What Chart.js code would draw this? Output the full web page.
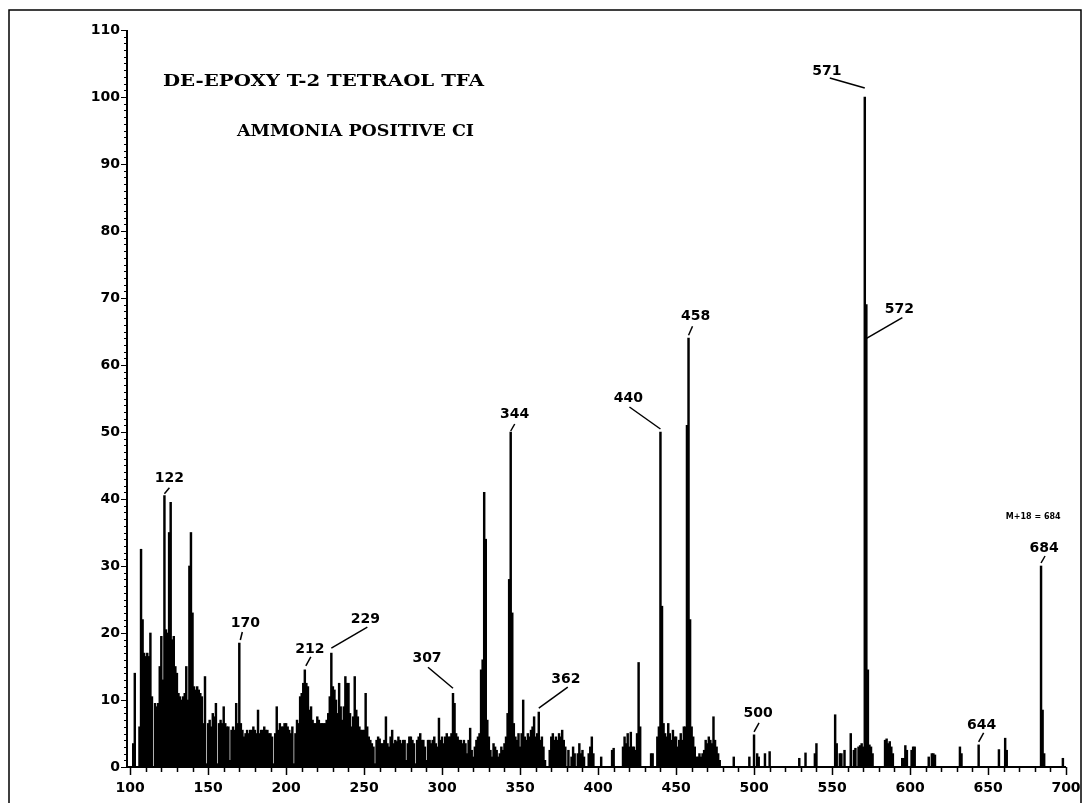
<!DOCTYPE html>
<html><head><meta charset="utf-8">
<script src="https://cdn.jsdelivr.net/npm/chart.js@4.4.1/dist/chart.umd.min.js"></script>
<style>html,body{margin:0;padding:0;background:#fff}#wrap{width:1087px;height:803px;position:relative}</style>
</head><body><div id="wrap"><canvas id="c" width="1087" height="803"></canvas></div>
<script>
// ---------- data ----------
const titleLines = ["DE-EPOXY T-2 TETRAOL TFA", "AMMONIA POSITIVE CI"];
const noteText = "M+18 = 684";
const xTickValues = [100, 150, 200, 250, 300, 350, 400, 450, 500, 550, 600, 650, 700];
const yTickValues = [0, 10, 20, 30, 40, 50, 60, 70, 80, 90, 100, 110];

// m/z 100 .. 479, one value per integer mass (relative abundance %)
const denseStartMz = 100;
const denseIntensity = [
  0, 0, 3.5, 14, 0, 0, 6, 32.5, 22, 17,
  16.5, 17, 16.5, 20, 10.5, 0, 9.5, 9, 9.5, 15,
  19.5, 13, 40.5, 20.5, 20, 35, 39.5, 19, 19.5, 15,
  14, 11, 10.5, 10, 10.5, 11, 15, 10, 30, 35,
  23, 12, 11.5, 12, 11.5, 11, 10.5, 6.5, 13.5, 0.5,
  6.5, 7, 6, 8, 7.5, 9.5, 0.5, 6.5, 7, 6.5,
  9, 6.5, 6, 6, 1, 5.5, 6, 5.5, 9.5, 6.5,
  18.5, 6.5, 5.5, 4.5, 5, 5.5, 5, 5.5, 5.5, 6,
  5.5, 5, 8.5, 5, 5.5, 5.5, 6, 5.5, 5.5, 5,
  5, 4.5, 0.5, 5, 9, 5.5, 6.5, 6, 6, 6.5,
  6.5, 6, 5.5, 5, 6, 0.5, 5, 7, 6.5, 10.5,
  11, 12.5, 14.5, 12.5, 12, 8.5, 9, 7, 6.5, 6.5,
  7.5, 7, 6.5, 6.5, 6.5, 6.5, 7, 8, 10.5, 17,
  12, 11.5, 10, 8, 12.5, 9, 7, 9, 13.5, 12.5,
  12.5, 8, 6, 7.5, 13.5, 8.5, 7.5, 6, 5.5, 5.5,
  5.5, 11, 6, 4.5, 4, 3.5, 3, 0.5, 4, 4.5,
  4.2, 3.5, 3.5, 4, 7.5, 3.5, 3, 4.5, 5.5, 3.5,
  4, 3.8, 4.5, 4, 3.5, 4, 4, 1, 3.5, 4.5,
  4.5, 4, 3.5, 0.5, 4, 4.5, 5, 4, 4, 3,
  1, 4, 4, 3.5, 4, 4.5, 3.5, 3, 7.3, 4,
  4.5, 3.5, 4.5, 5, 4.5, 4.5, 5, 11, 9.5, 5,
  4.5, 4, 4, 3.5, 4, 3.5, 2, 4, 5.8, 2.5,
  1.5, 3, 4, 4.5, 5, 14.5, 16, 41, 34, 7,
  4.5, 2.5, 1.5, 3.5, 3, 2.5, 1.5, 2, 3, 2.5,
  3.5, 4.5, 8, 28, 50, 23, 6.5, 4.5, 4, 5,
  3, 5, 10, 4.5, 4, 5, 4.5, 5.5, 6, 7.5,
  4.5, 5, 8.2, 4, 4.5, 3, 1, 0, 0, 2.5,
  4.5, 5, 4, 4.5, 4, 5, 4.5, 5.5, 4, 3,
  0, 2.5, 0, 1.5, 3, 2, 0, 2, 3.5, 2,
  2.5, 1.5, 0, 0, 2, 3, 4.5, 2, 0, 0,
  0, 0, 1.5, 0, 0, 0, 0, 0, 0, 2.5,
  2.8, 0, 0, 0, 0, 0, 3, 4.5, 3.5, 5,
  3, 5.2, 3, 3, 2.5, 5, 15.6, 6, 0, 0,
  0, 0, 0, 0, 2, 2, 0, 0, 4.5, 6,
  50, 24, 6.5, 5, 4.5, 6.5, 5, 4, 5.5, 4.5,
  4.5, 3, 4, 5, 4, 6, 6, 51, 64, 22,
  6, 4.5, 3, 1.5, 1.5, 2, 1.5, 2, 2.5, 4,
  3.5, 4.5, 4, 3.5, 7.5, 4, 3, 2, 1, 0
];

// isolated peaks above m/z 480
const sparseMz = [487,497,500,502,503,507,510,529,533,539,540,552,553,555,556,558,562,564,565,567,568,569,570,571,572,573,574,575,576,584,585,586,587,588,589,595,596,597,598,601,602,603,612,614,615,616,632,633,644,657,661,662,684,685,686,698];
const sparseIntensity = [1.5,1.5,4.8,2,1.5,2,2.3,1.3,2.1,2,3.5,7.8,3.5,2,2,2.5,5,2.5,2.8,3,3.2,3.5,3,100,69,14.5,3.3,3,2,4,4.2,3.5,3.8,3,2,1.3,1.3,3.2,2.5,2.5,3,3,1.5,2,2,1.8,3,2,3.3,2.6,4.3,2.5,30,8.5,2,1.3];

// labelled peaks
const peakLabelMz = [122, 170, 212, 229, 307, 344, 362, 440, 458, 500, 571, 572, 644, 684];

// ---------- label layout (pixel offsets from the peak top) ----------
const labelLayout = {
  122: {line: [0, -2, 5, -8],   text: [5, -17]},
  170: {line: [1, -3, 3, -11],  text: [6, -20]},
  212: {line: [1, -4, 6, -13],  text: [5, -20]},
  229: {line: [0, -5, 36, -26], text: [34, -34]},
  307: {line: [0, -5, -25, -26],text: [-26, -35]},
  344: {line: [0, -1, 4, -8],   text: [4, -18]},
  362: {line: [0, -4, 29, -25], text: [27, -33]},
  440: {line: [0, -3, -31, -25],text: [-32, -34]},
  458: {line: [0, -3, 4, -12],  text: [7, -22]},
  500: {line: [0, -3, 5, -12],  text: [4, -21]},
  571: {line: [0, -9, -35, -19],text: [-38, -26]},
  572: {line: [-2, 35, 36, 13], text: [33, 5]},
  644: {line: [0, -3, 5, -12],  text: [3, -20]},
  684: {line: [0, -3, 4, -10],  text: [3, -18]}
};
const titleBoxes = [{left: 163, base: 86, width: 321}, {left: 237, base: 136, width: 237}];

// ---------- build points ----------
const points = [];
denseIntensity.forEach((v, i) => { if (v > 0) points.push({x: denseStartMz + i, y: v}); });
sparseMz.forEach((m, i) => points.push({x: m, y: sparseIntensity[i]}));
function valueAt(mz) {
  const p = points.find(q => q.x === mz);
  return p ? p.y : 0;
}

const FONT = '"DejaVu Sans", sans-serif';

const decor = {
  id: 'decor',
  afterDraw(chart) {
    const ctx = chart.ctx;
    const xs = chart.scales.x, ys = chart.scales.y;
    const ca = chart.chartArea;
    ctx.save();
    ctx.strokeStyle = '#000';
    ctx.fillStyle = '#000';
    // frame
    ctx.lineWidth = 1.5;
    ctx.beginPath();
    ctx.moveTo(9, 803); ctx.lineTo(9, 10); ctx.lineTo(1081, 10); ctx.lineTo(1081, 803);
    ctx.stroke();
    // axes
    ctx.lineWidth = 2;
    ctx.beginPath();
    ctx.moveTo(ca.left, ys.getPixelForValue(110));
    ctx.lineTo(ca.left, ys.getPixelForValue(0));
    ctx.lineTo(xs.getPixelForValue(700), ys.getPixelForValue(0));
    ctx.stroke();
    // y ticks (minor each 1, major each 10)
    ctx.lineWidth = 1.2;
    ctx.beginPath();
    for (let v = 0; v <= 110; v++) {
      const y = Math.round(ys.getPixelForValue(v)) + 0.5;
      const len = (v % 10 === 0) ? 6 : 3;
      ctx.moveTo(ca.left - len, y); ctx.lineTo(ca.left, y);
    }
    ctx.stroke();
    // x ticks (minor each 10, major each 50)
    ctx.lineWidth = 1.5;
    ctx.beginPath();
    const y0 = ys.getPixelForValue(0);
    for (let v = 100; v <= 700; v += 10) {
      const x = Math.round(xs.getPixelForValue(v)) + 0.5;
      const len = (v % 50 === 0) ? 8 : 5;
      ctx.moveTo(x, y0); ctx.lineTo(x, y0 + len);
    }
    ctx.stroke();
    // titles, stretched horizontally to the reference widths
    ctx.font = 'bold 17px "DejaVu Serif", serif';
    ctx.textAlign = 'left';
    ctx.textBaseline = 'alphabetic';
    titleLines.forEach((t, i) => {
      const b = titleBoxes[i];
      const w = ctx.measureText(t).width;
      ctx.save();
      ctx.translate(b.left, b.base);
      ctx.scale(b.width / w, 1);
      ctx.fillText(t, 0, 0);
      ctx.restore();
    });
    // peak labels
    ctx.font = 'bold 14px ' + FONT;
    ctx.textAlign = 'center';
    ctx.textBaseline = 'middle';
    ctx.lineWidth = 1.5;
    peakLabelMz.forEach(m => {
      const L = labelLayout[m];
      const px = xs.getPixelForValue(m), py = ys.getPixelForValue(valueAt(m));
      ctx.beginPath();
      ctx.moveTo(px + L.line[0], py + L.line[1]);
      ctx.lineTo(px + L.line[2], py + L.line[3]);
      ctx.stroke();
      ctx.fillText(String(m), px + L.text[0], py + L.text[1]);
    });
    // M+18 note
    ctx.font = 'bold 8px ' + FONT;
    ctx.fillText(noteText, xs.getPixelForValue(679), ys.getPixelForValue(37.3));
    ctx.restore();
  }
};

new Chart(document.getElementById('c'), {
  type: 'bar',
  data: {
    datasets: [{
      data: points,
      backgroundColor: '#000',
      borderWidth: 0,
      barThickness: 1.8
    }]
  },
  options: {
    responsive: false,
    animation: false,
    devicePixelRatio: 1,
    layout: {padding: {top: 30, right: 21, left: 0, bottom: 0}},
    plugins: {legend: {display: false}, tooltip: {enabled: false}},
    scales: {
      x: {
        type: 'linear', min: 98, max: 700, offset: false,
        grid: {display: false, drawTicks: false},
        border: {display: false},
        afterBuildTicks: s => { s.ticks = xTickValues.map(v => ({value: v})); },
        afterFit: s => { s.height = 36; s.paddingLeft = 0; s.paddingRight = 0; },
        ticks: {padding: 13, color: '#000', maxRotation: 0, autoSkip: false,
                font: {family: FONT, size: 14, weight: 'bold'}}
      },
      y: {
        min: 0, max: 110,
        grid: {display: false, drawTicks: false},
        border: {display: false},
        afterBuildTicks: s => { s.ticks = yTickValues.map(v => ({value: v})); },
        afterFit: s => { s.width = 127; s.paddingTop = 0; s.paddingBottom = 0; },
        ticks: {padding: 7, color: '#000', autoSkip: false,
                font: {family: FONT, size: 14, weight: 'bold'}}
      }
    }
  },
  plugins: [decor]
});
</script>
</body></html>
